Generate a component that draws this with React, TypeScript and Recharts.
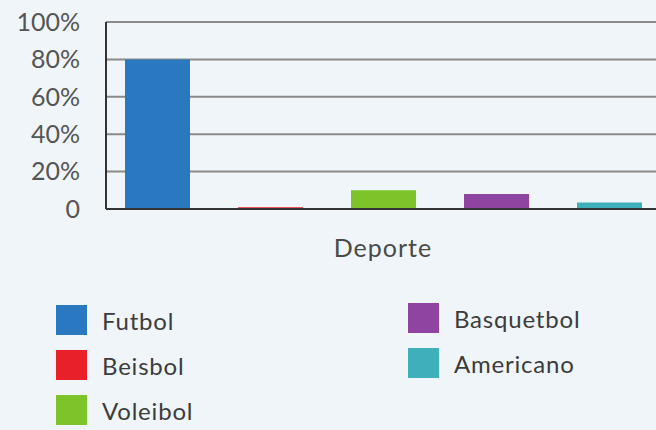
import { BarChart, Bar, XAxis, YAxis, CartesianGrid, Legend, Label } from "recharts";

const sports = ["Futbol", "Beisbol", "Voleibol", "Basquetbol", "Americano"];
const shares = [80, 1, 10, 8, 3.5];
const colors = ["#2a78c0", "#e8202a", "#7cc42a", "#8e44a0", "#3fb0bb"];
const yTicks = [0, 20, 40, 60, 80, 100];

const row: any = { name: "Deporte" };
sports.forEach((s, i) => {
  row[s] = shares[i];
});
const data = [row];

const font = "Lato, 'Noto Sans', sans-serif";

// legend spots: first three on the left, the rest on the right
const legendSpots = [
  { left: 56, top: 10 },
  { left: 56, top: 55 },
  { left: 56, top: 100 },
  { left: 408, top: 8 },
  { left: 408, top: 53 },
];

function LegendBox({ payload }: any) {
  const items = [...(payload || [])].sort(
    (a: any, b: any) => sports.indexOf(a.value) - sports.indexOf(b.value)
  );
  return (
    <div style={{ position: "relative", width: 656, height: 135 }}>
      {items.map((p: any, i: number) => (
        <div
          key={p.value}
          style={{
            position: "absolute",
            left: legendSpots[i].left,
            top: legendSpots[i].top,
            display: "flex",
            alignItems: "center",
            height: 30,
          }}
        >
          <span style={{ width: 31, height: 30, background: p.color, display: "inline-block" }} />
          <span
            style={{
              marginLeft: 15,
              fontFamily: font,
              fontSize: 24,
              letterSpacing: 0.8,
              color: "#3c3c3c",
            }}
          >
            {p.value}
          </span>
        </div>
      ))}
    </div>
  );
}

export default function App() {
  return (
    <div
      style={{
        position: "absolute",
        left: 0,
        top: 0,
        width: 656,
        height: 430,
        overflow: "hidden",
        background: "#f0f5f9",
      }}
    >
      <BarChart
        width={670}
        height={430}
        data={data}
        margin={{ top: 22, right: 10, left: 0, bottom: 191 }}
        barGap={48}
        barSize={65}
      >
        <CartesianGrid vertical={false} stroke="#8a8a8a" strokeWidth={2} />
        <XAxis
          dataKey="name"
          tick={false}
          tickLine={false}
          height={30}
          axisLine={{ stroke: "#333", strokeWidth: 2 }}
        >
          <Label
            value="Deporte"
            position="bottom"
            offset={0}
            style={{ fontFamily: font, fontSize: 25, letterSpacing: 1, fill: "#4a4a4a" }}
          />
        </XAxis>
        <YAxis
          width={106}
          domain={[0, 100]}
          ticks={yTicks}
          interval={0}
          tickLine={false}
          tickSize={0}
          tickMargin={26}
          axisLine={{ stroke: "#333", strokeWidth: 2 }}
          tickFormatter={(v: number) => (v === 0 ? "0" : v + "%")}
          tick={{ fontFamily: font, fontSize: 25, fill: "#555" }}
        />
        <Legend
          layout="horizontal"
          verticalAlign="middle"
          align="center"
          wrapperStyle={{ top: 295, left: 0, width: 656 }}
          content={LegendBox}
        />
        {sports.map((s, i) => (
          <Bar key={s} dataKey={s} name={s} fill={colors[i]} isAnimationActive={false} />
        ))}
      </BarChart>
    </div>
  );
}
